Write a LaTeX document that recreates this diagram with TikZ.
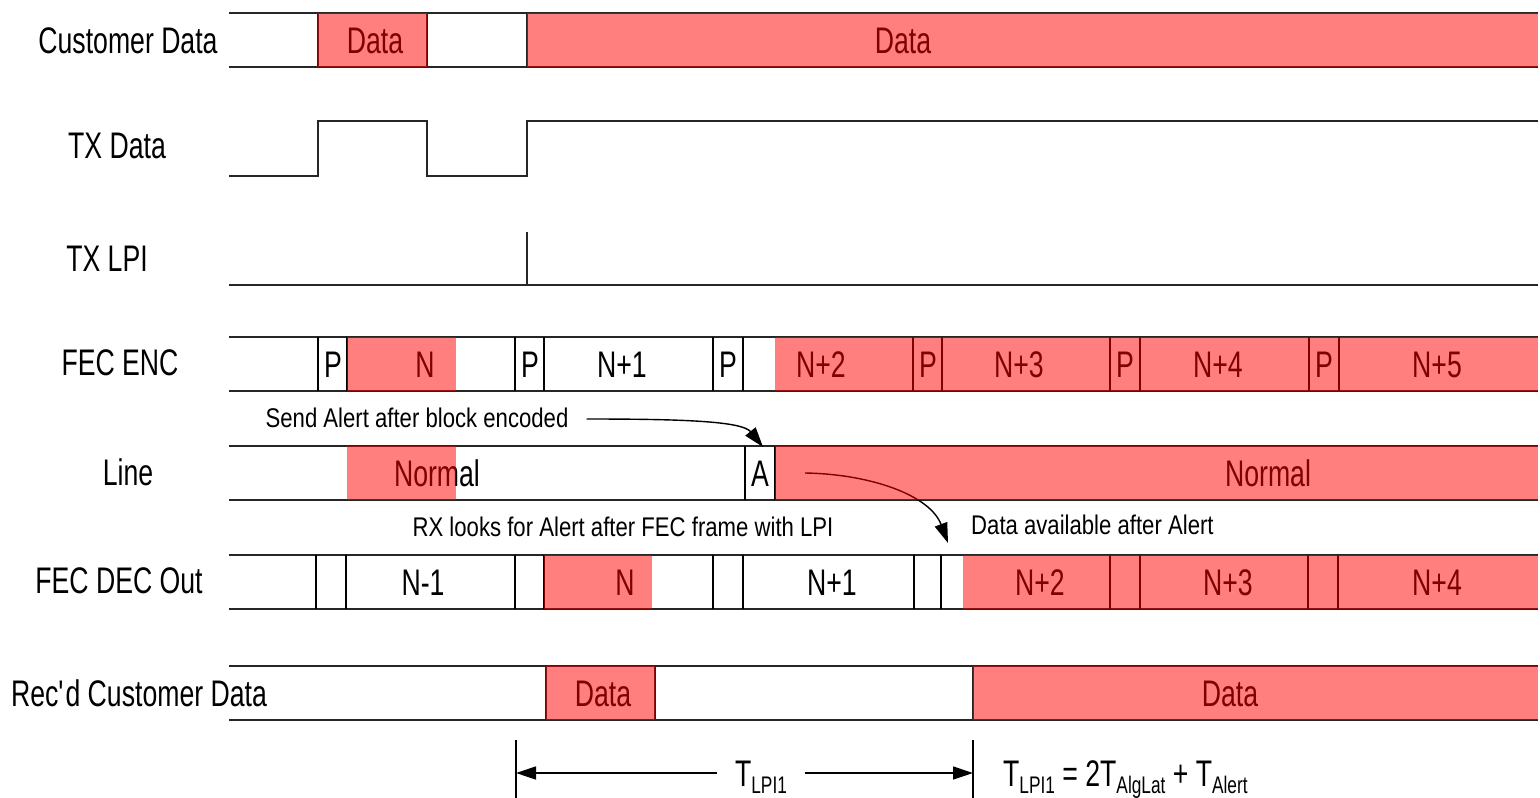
\documentclass[tikz,border=0pt]{standalone}
\usepackage{fontspec}
\setmainfont{Liberation Sans}
\newfontfamily\labfont{Liberation Sans}[FakeStretch=0.72]
\newfontfamily\annfont{Liberation Sans}[FakeStretch=0.82]
\usetikzlibrary{arrows.meta}
\newcommand{\tsub}[1]{\raisebox{-7pt}{\fontsize{24}{24}\selectfont #1}}
\begin{document}
\begin{tikzpicture}[x=1pt,y=-1pt,
 hline/.style={line width=1.8pt, black!85},
 vline/.style={line width=1.1pt},
 lab/.style={font=\labfont\fontsize{37}{37}\selectfont, inner sep=0pt, text height=26.5pt, text depth=0pt},
 ann/.style={font=\annfont\fontsize{27}{27}\selectfont, inner sep=0pt, text height=19.3pt, text depth=0pt},
 redbox/.style={fill=red, fill opacity=0.5, draw=none},
 tip/.style={-{Triangle[length=20pt,width=13pt]}, line width=1.4pt}]
\useasboundingbox (0,0) rectangle (1540,798);
\fill[white] (0,0) rectangle (1540,798);

% ---------- left labels ----------
\node[lab] (l1) at (128,40) {Customer Data};
\node[lab] (l2) at (117,145) {TX Data};
\node[lab] (l3) at (107,258) {TX LPI};
\node[lab] (l4) at (120,362) {FEC ENC};
\node[lab] (l5) at (128,472) {Line};
\node[lab] (l6) at (119,580) {FEC DEC Out};
\node[lab] (l7) at (139,693) {Rec\textquotesingle d Customer Data};

% ---------- Customer Data ----------
\draw[hline] (229,13) -- (1538,13) (229,67) -- (1538,67);
\foreach \x in {318,427,527} \draw[hline] (\x,13) -- (\x,67);
\node[lab] (cd1) at (375,40) {Data};
\node[lab] (cd2) at (903,40) {Data};

% ---------- TX Data ----------
\draw[hline] (229,176) -- (318,176) -- (318,121) -- (427,121) -- (427,176) -- (527,176) -- (527,121) -- (1538,121);

% ---------- TX LPI ----------
\draw[hline] (229,285) -- (1538,285) (527,232) -- (527,285);

% ---------- FEC ENC ----------
\draw[hline] (229,337) -- (1538,337) (229,391) -- (1538,391);
\foreach \x in {318,347,515,544,713,743,913,942,1110,1140,1309,1339} \draw[vline] (\x,337) -- (\x,391);
\foreach \x/\t [count=\i] in {333/P,425/N,530/P,622/N+1,728/P,821/N+2,928/P,1019/N+3,1125/P,1218/N+4,1324/P,1437/N+5}
  \node[lab] (enc\i) at (\x,364) {\t};

% ---------- Line ----------
\draw[hline] (229,446) -- (1538,446) (229,500) -- (1538,500);
\foreach \x in {745,775} \draw[vline] (\x,446) -- (\x,500);
\node[lab] (ln1) at (437,473) {Normal};
\node[lab] (ln2) at (760,473) {A};
\node[lab] (ln3) at (1268,473) {Normal};

% ---------- FEC DEC Out ----------
\draw[hline] (229,555) -- (1538,555) (229,609) -- (1538,609);
\foreach \x in {316,346,515,544,713,743,914,941,1110,1140,1308,1338} \draw[vline] (\x,555) -- (\x,609);
\foreach \x/\t [count=\i] in {423/N-1,625/N,832/N+1,1040/N+2,1228/N+3,1437/N+4}
  \node[lab] (dec\i) at (\x,582) {\t};

% ---------- Rec'd Customer Data ----------
\draw[hline] (229,666) -- (1538,666) (229,720) -- (1538,720);
\foreach \x in {546,655,973} \draw[hline] (\x,666) -- (\x,720);
\node[lab] (rd1) at (603,693) {Data};
\node[lab] (rd2) at (1230,693) {Data};

% ---------- annotations ----------
\node[ann] (sa) at (417,418) {Send Alert after block encoded};
\node[ann] (rx) at (623,527) {RX looks for Alert after FEC frame with LPI};
\node[ann, anchor=west] (da) at (971,525) {Data available after Alert};
\coordinate (atip) at (763,447);
\coordinate (dstart) at (805,473);
\coordinate (dtip) at (948,543);
\draw[tip] ([xshift=18pt,yshift=-1pt]sa.east) .. controls (680,419) and (742,421) .. (atip);
\draw[tip] (dstart) .. controls (870,474) and (930,495) .. (dtip);

% ---------- red overlays ----------
\fill[redbox] (318,13) rectangle (427,67);
\fill[redbox] (527,13) rectangle (1538,67);
\fill[redbox] (347,337) rectangle (456,391);
\fill[redbox] (775,337) rectangle (1538,391);
\fill[redbox] (347,446) rectangle (456,500);
\fill[redbox] (775,446) rectangle (1538,500);
\fill[redbox] (544,555) rectangle (652,609);
\fill[redbox] (963,555) rectangle (1538,609);
\fill[redbox] (546,666) rectangle (655,720);
\fill[redbox] (973,666) rectangle (1538,720);

% ---------- T_LPI1 ----------
\draw[vline, line width=1.3pt] (516,740) -- (516,798) (973,740) -- (973,798);
\coordinate (tl) at (516,773);
\coordinate (tr) at (973,773);
\node[lab] (tlpi) at (761,773) {T\tsub{LPI1}};
\draw[tip] ([xshift=-18pt]tlpi.west) -- (tl);
\draw[tip] ([xshift=18pt]tlpi.east) -- (tr);
\node[lab, anchor=west] (form) at (1003,773) {T\tsub{LPI1} = 2T\tsub{AlgLat} + T\tsub{Alert}};
\end{tikzpicture}
\end{document}
